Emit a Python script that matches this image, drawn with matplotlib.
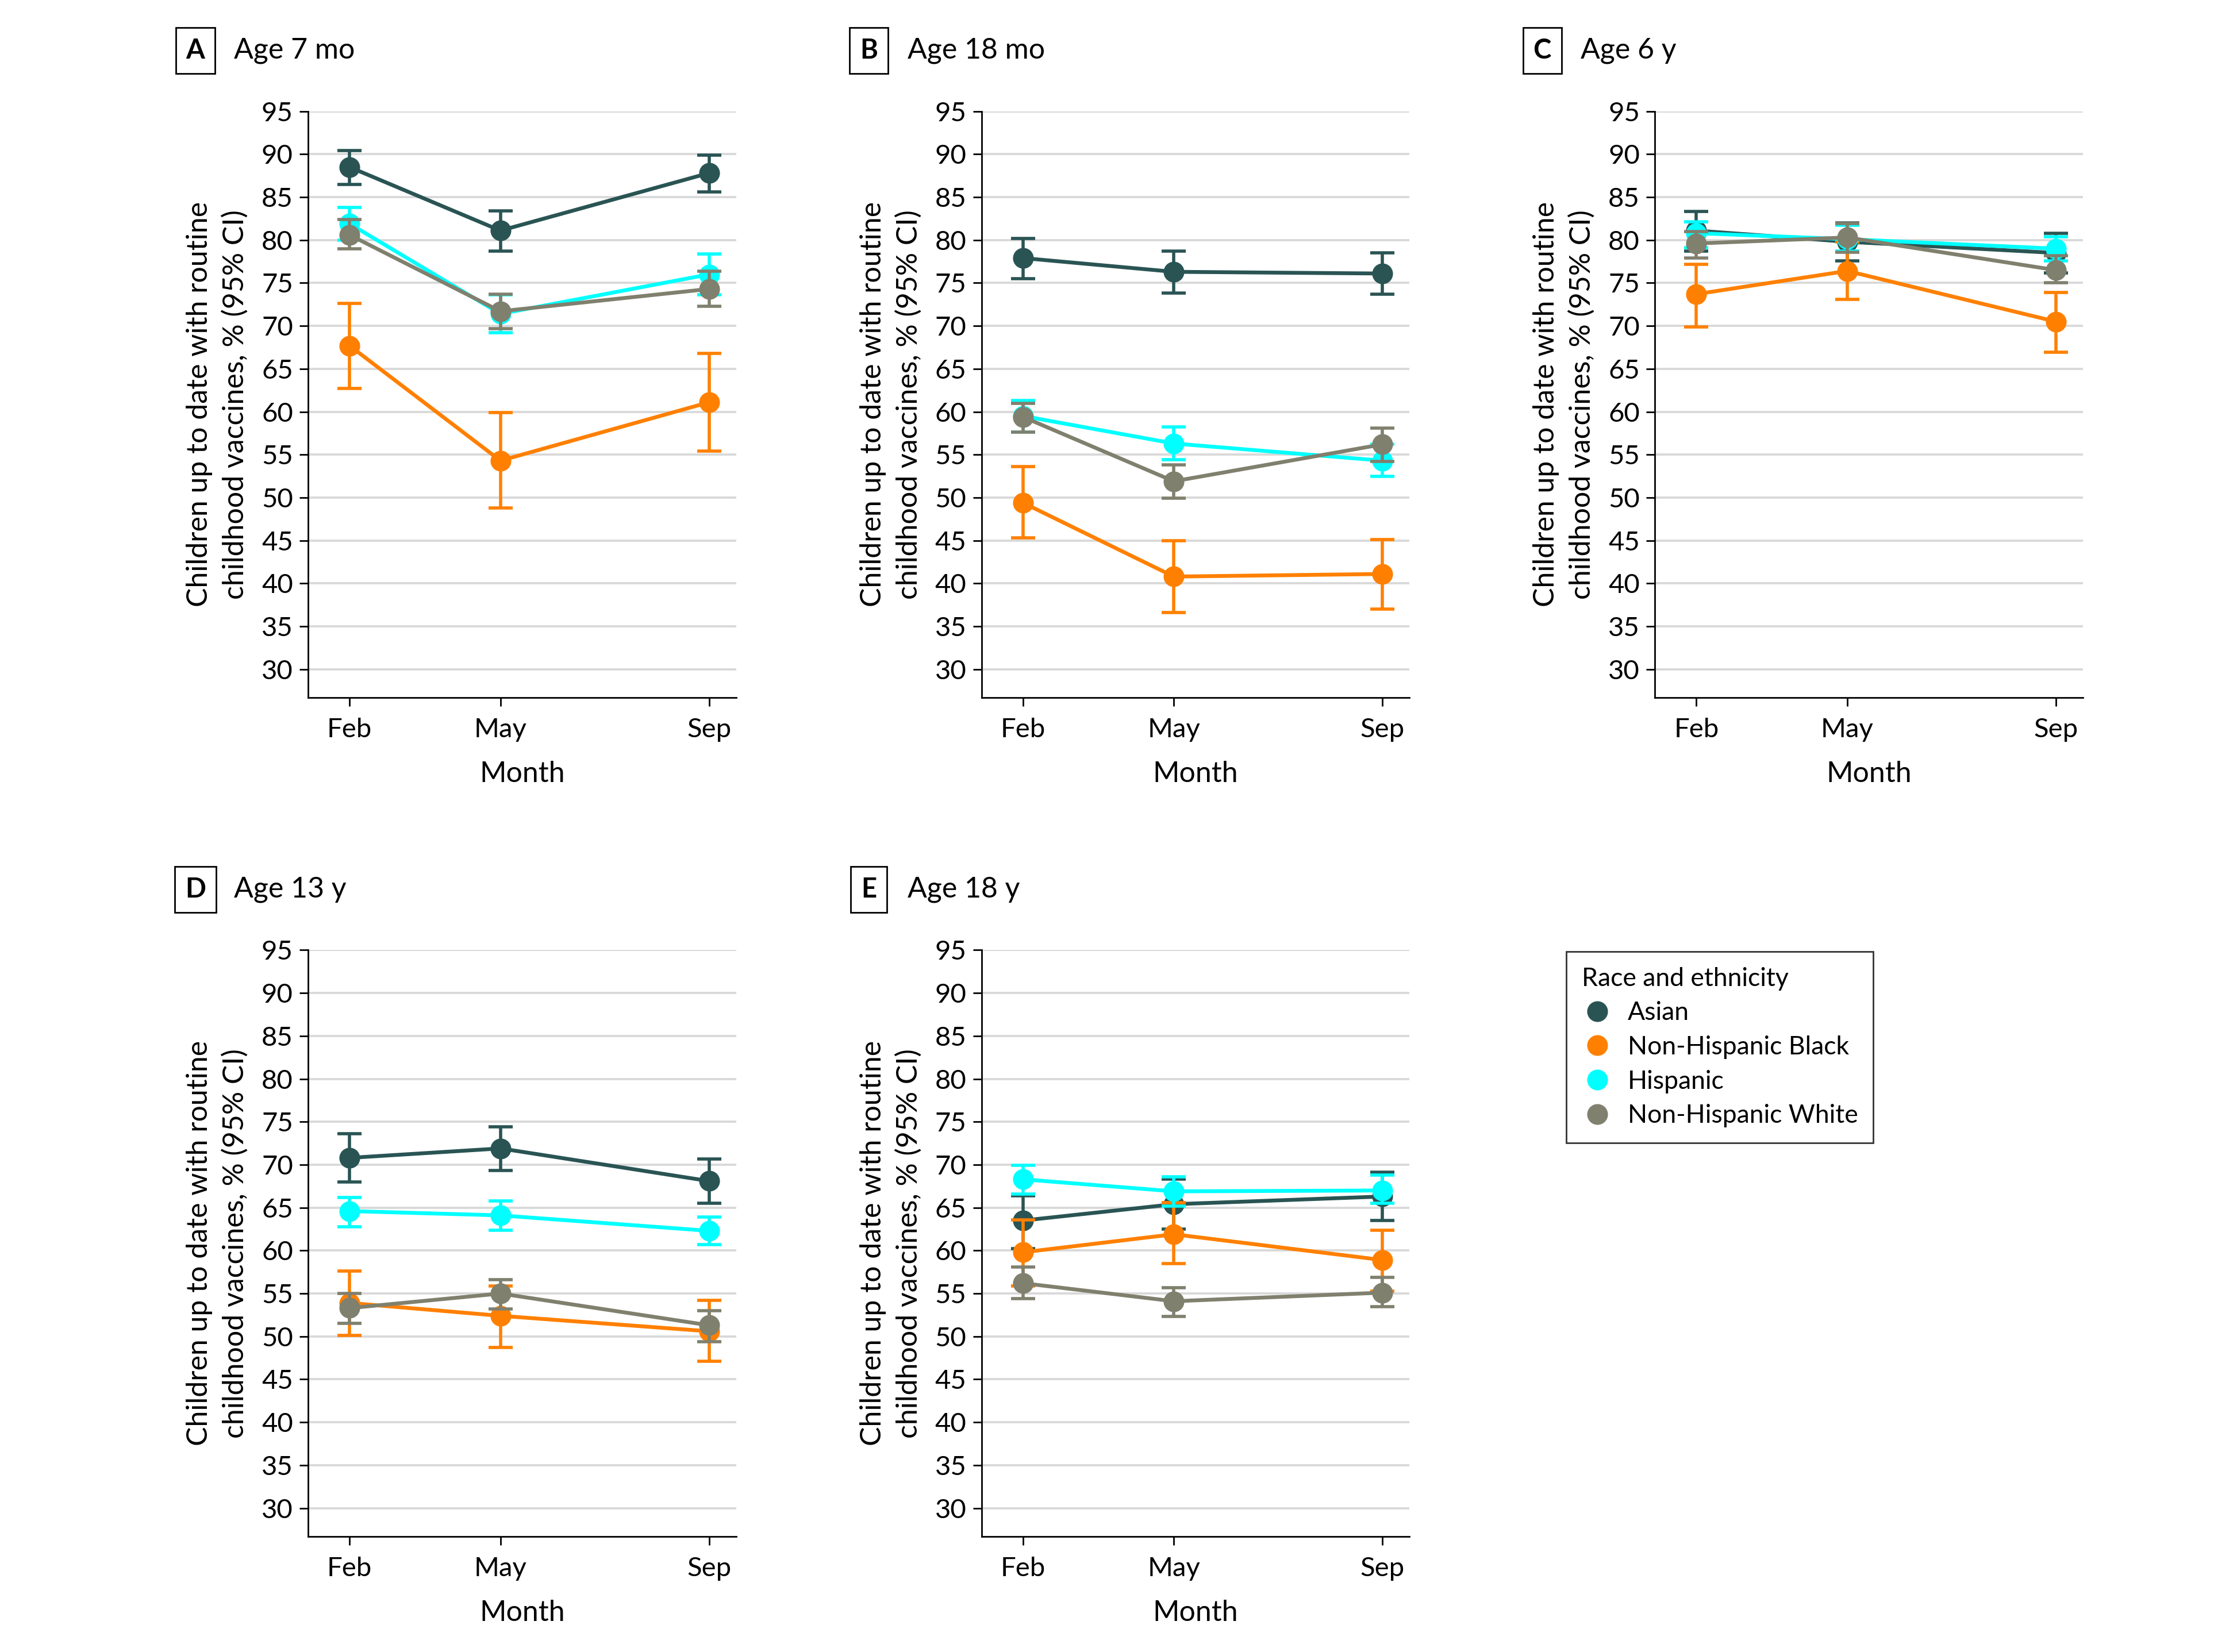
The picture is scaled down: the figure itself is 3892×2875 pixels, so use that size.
import numpy as np
import matplotlib
matplotlib.use("Agg")
import matplotlib.pyplot as plt
from matplotlib.lines import Line2D

plt.rcParams['font.family'] = ['Lato', 'DejaVu Sans']

# groups and colours
groups = ["Asian", "Non-Hispanic Black", "Hispanic", "Non-Hispanic White"]
colors = ["#2a5454", "#ff8000", "#00ffff", "#80806e"]

# x = day of year of the 1st of each month
months = ["Feb", "May", "Sep"]
month_day = [32, 121, 244]

# rows: Asian, Black, Hispanic, White; cols: Feb, May, Sep
est_7mo = [[88.5, 81.1, 87.8], [67.7, 54.3, 61.1], [81.9, 71.4, 76.0], [80.6, 71.7, 74.3]]
lo_7mo = [[86.5, 78.7, 85.6], [62.7, 48.8, 55.4], [80.0, 69.2, 73.6], [79.0, 69.7, 72.3]]
hi_7mo = [[90.4, 83.4, 89.9], [72.6, 59.9, 66.8], [83.8, 73.6, 78.4], [82.4, 73.7, 76.4]]

est_18mo = [[77.9, 76.3, 76.1], [49.4, 40.8, 41.1], [59.5, 56.3, 54.3], [59.4, 51.9, 56.2]]
lo_18mo = [[75.5, 73.8, 73.7], [45.3, 36.6, 37.0], [57.6, 54.4, 52.5], [57.6, 49.9, 54.2]]
hi_18mo = [[80.2, 78.7, 78.5], [53.6, 45.0, 45.1], [61.3, 58.2, 56.2], [61.0, 53.8, 58.1]]

est_6y = [[81.1, 79.8, 78.5], [73.7, 76.4, 70.5], [80.8, 80.1, 79.0], [79.6, 80.3, 76.5]]
lo_6y = [[78.7, 77.6, 76.2], [69.9, 73.1, 66.9], [79.1, 78.7, 77.6], [77.9, 78.6, 75.0]]
hi_6y = [[83.3, 82.0, 80.8], [77.2, 79.8, 73.9], [82.1, 81.7, 80.4], [81.0, 81.9, 78.2]]

est_13y = [[70.8, 71.9, 68.1], [53.9, 52.4, 50.6], [64.6, 64.1, 62.3], [53.3, 55.0, 51.3]]
lo_13y = [[68.0, 69.3, 65.5], [50.1, 48.7, 47.1], [62.8, 62.4, 60.7], [51.5, 53.2, 49.4]]
hi_13y = [[73.6, 74.4, 70.7], [57.6, 55.9, 54.2], [66.2, 65.8, 63.9], [55.0, 56.6, 53.0]]

est_18y = [[63.5, 65.4, 66.3], [59.8, 61.9, 58.9], [68.3, 66.9, 67.0], [56.2, 54.1, 55.1]]
lo_18y = [[60.2, 62.5, 63.5], [55.9, 58.5, 55.3], [66.6, 65.2, 65.5], [54.4, 52.3, 53.5]]
hi_18y = [[66.4, 68.3, 69.1], [63.6, 65.6, 62.4], [69.9, 68.6, 68.8], [58.1, 55.7, 56.9]]

panel_letters = ["A", "B", "C", "D", "E"]
panel_titles = ["Age 7 mo", "Age 18 mo", "Age 6 y", "Age 13 y", "Age 18 y"]
panel_est = [est_7mo, est_18mo, est_6y, est_13y, est_18y]
panel_lo = [lo_7mo, lo_18mo, lo_6y, lo_13y, lo_18y]
panel_hi = [hi_7mo, hi_18mo, hi_6y, hi_13y, hi_18y]

W, H = 1568, 1158  # layout measured in the shrunk reference
fig = plt.figure(figsize=(19.46, 14.375), dpi=200)

col_left = [216, 688, 1160]
row_top = [78, 666]
ax_w, ax_h = 300, 411

for i in range(5):
    r, c = divmod(i, 3)
    ax = fig.add_axes([col_left[c] / W, 1 - (row_top[r] + ax_h) / H, ax_w / W, ax_h / H])

    for g in range(4):
        est = np.array(panel_est[i][g])
        lo = np.array(panel_lo[i][g])
        hi = np.array(panel_hi[i][g])
        ax.errorbar(month_day, est, yerr=[est - lo, hi - est], color=colors[g],
                    marker="o", markersize=12, linewidth=2.4, elinewidth=2.0,
                    capsize=7.5, capthick=2.0, zorder=3 + g)

    ax.set_xlim(7.6, 260)
    ax.set_ylim(26.7, 95)
    ax.set_yticks(np.arange(30, 96, 5))
    ax.set_xticks(month_day)
    ax.set_xticklabels(months)
    ax.yaxis.grid(True, color="#d9d9d9", linewidth=1.4)
    ax.set_axisbelow(True)
    for s in ["top", "right"]:
        ax.spines[s].set_visible(False)
    ax.spines["left"].set_linewidth(1.0)
    ax.spines["bottom"].set_linewidth(1.0)
    ax.tick_params(labelsize=17, length=5.5, width=1.0, pad=4)
    ax.tick_params(axis="x", pad=7)
    ax.set_xlabel("Month", fontsize=18, labelpad=12)
    ax.set_ylabel("Children up to date with routine\nchildhood vaccines, % (95% CI)",
                  fontsize=18, labelpad=8, linespacing=1.42)

    # panel letter box and title
    ty = 1 - (row_top[r] - 42.5) / H
    fig.text((col_left[c] - 79) / W, ty, panel_letters[i], fontsize=17, fontweight="bold",
             ha="center", va="center",
             bbox=dict(boxstyle="square,pad=0.38", fc="white", ec="black", lw=1.0))
    fig.text((col_left[c] - 52) / W, ty, panel_titles[i], fontsize=18, ha="left", va="center")

handles = [Line2D([], [], marker="o", linestyle="none", markersize=12, color=col)
           for col in colors]
leg = fig.legend(handles, groups, title="Race and ethnicity", loc="upper left",
                 bbox_to_anchor=(1098 / W, 1 - 667 / H), fontsize=16, title_fontsize=16,
                 frameon=True, fancybox=False, edgecolor="black", alignment="left",
                 handletextpad=0.6, labelspacing=0.42, borderpad=0.6, handlelength=1.2,
                 borderaxespad=0)
leg.get_frame().set_linewidth(1.0)

fig.savefig("out.png", dpi=200)
